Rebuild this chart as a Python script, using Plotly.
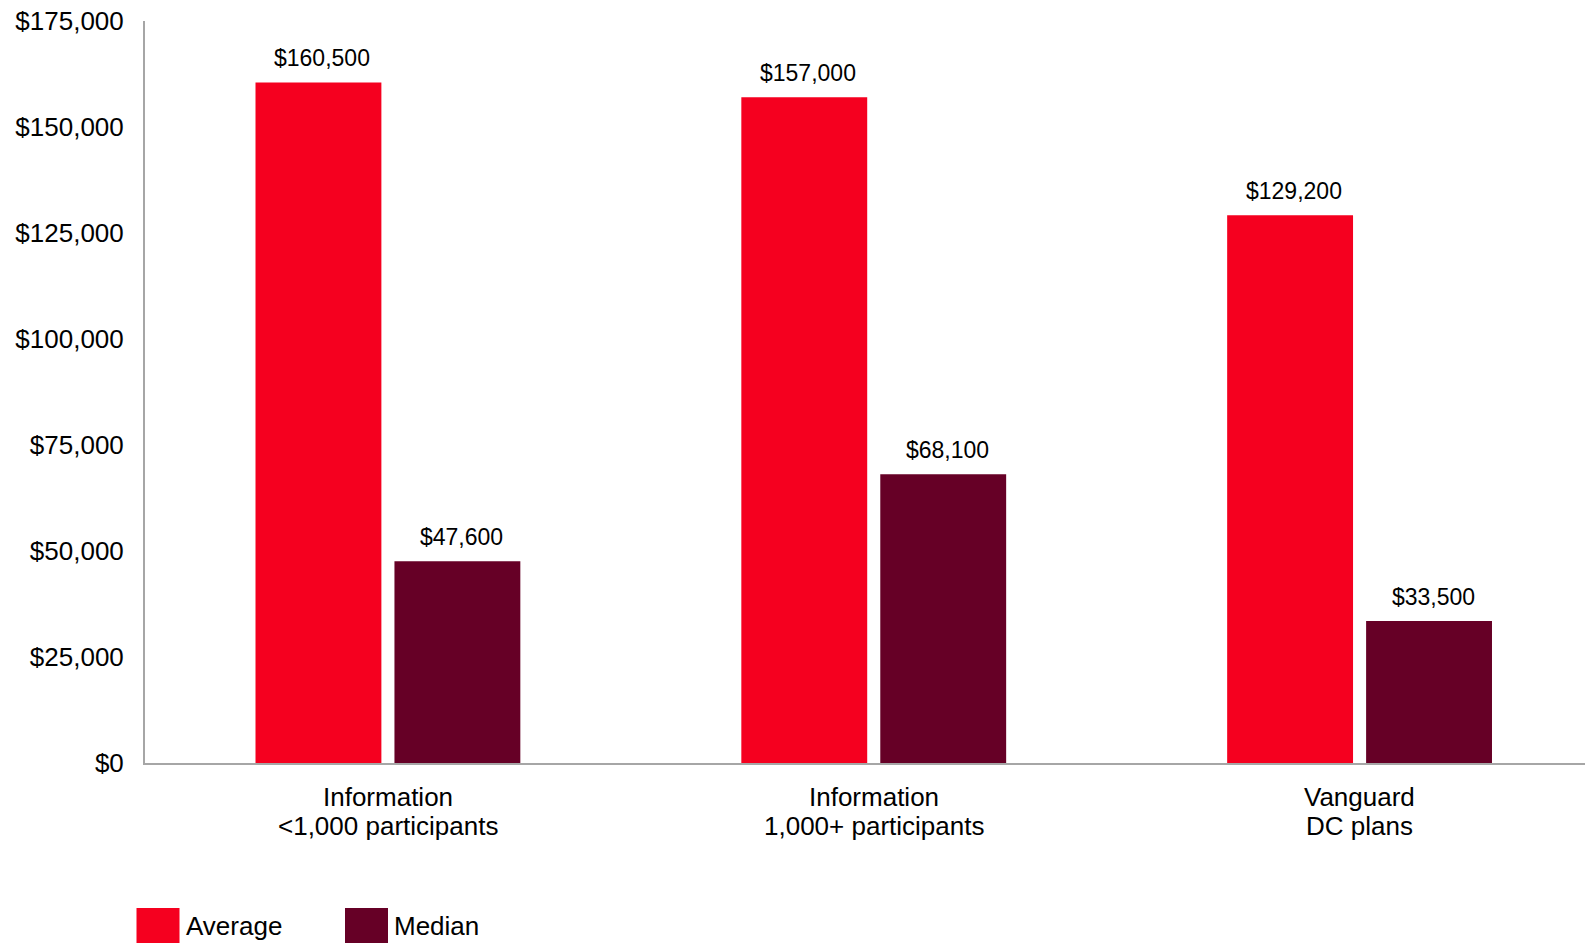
import plotly.graph_objects as go

# Account balances by plan group
categories = ["Information<br><1,000 participants",
              "Information<br>1,000+ participants",
              "Vanguard<br>DC plans"]
average_values = [160500, 157000, 129200]
median_values = [47600, 68100, 33500]
series_names = ["Average", "Median"]
y_ticks = [0, 25000, 50000, 75000, 100000, 125000, 150000, 175000]

RED = "#F5001F"
MAROON = "#660026"
FONT = "Liberation Sans, Arial, sans-serif"
W, H = 1585, 943
M_L, M_R, M_T, M_B = 145, 0, 21, 180
PLOT_W, PLOT_H = W - M_L - M_R, H - M_T - M_B


def py(pixel_y):
    """Page pixel row -> paper y coordinate."""
    return (H - M_B - pixel_y) / PLOT_H


def px(pixel_x):
    """Page pixel column -> paper x coordinate."""
    return (pixel_x - M_L) / PLOT_W


fig = go.Figure()
for name, vals, col in [(series_names[0], average_values, RED),
                        (series_names[1], median_values, MAROON)]:
    fig.add_trace(go.Bar(x=categories, y=vals, name=name,
                         marker=dict(color=col, line=dict(width=0)),
                         showlegend=False, hoverinfo="skip"))

x_range = [-0.5, 2.464]
px_per_cat = PLOT_W / (x_range[1] - x_range[0])
bargap = 0.428
slot = (1 - bargap) / 2 * px_per_cat  # pixel width of each bar slot

# value labels above each bar
for i, cat in enumerate(categories):
    for k, vals in enumerate([average_values, median_values]):
        fig.add_annotation(x=cat, y=vals[i], xref="x", yref="y",
                           text=f"${vals[i]:,}", showarrow=False,
                           xshift=(k - 0.5) * slot + 4, yshift=24,
                           yanchor="middle",
                           font=dict(size=23, color="#000000", family=FONT))

# two-line category labels with tight line spacing
for cat in categories:
    for j, line in enumerate(cat.split("<br>")):
        fig.add_annotation(x=cat, xref="x", yref="paper",
                           y=py(796.5 + 30 * j), text=line,
                           showarrow=False, yanchor="middle",
                           font=dict(size=26, color="#000000", family=FONT))

# legend drawn as swatches + text
legend_items = [(series_names[0], RED, 136.5), (series_names[1], MAROON, 345)]
for name, col, x0 in legend_items:
    fig.add_shape(type="rect", xref="paper", yref="paper",
                  x0=px(x0), x1=px(x0 + 43), y0=py(908), y1=py(955),
                  fillcolor=col, line=dict(width=0), layer="above")
    fig.add_annotation(xref="paper", yref="paper", x=px(x0 + 47), y=py(926),
                       text=name, showarrow=False, xanchor="left",
                       yanchor="middle",
                       font=dict(size=26, color="#000000", family=FONT))

fig.update_layout(
    width=W, height=H,
    margin=dict(l=M_L, r=M_R, t=M_T, b=M_B, pad=0),
    paper_bgcolor="white", plot_bgcolor="white",
    barmode="group", bargap=bargap, bargroupgap=0.094,
    font=dict(family=FONT, size=26, color="#000000"),
    showlegend=False,
)
fig.update_xaxes(range=x_range, showgrid=False, zeroline=False,
                 showline=True, linecolor="#A6A6A6", linewidth=2,
                 ticks="", showticklabels=False)
fig.update_yaxes(range=[0, 175000], tickvals=y_ticks,
                 ticktext=[f"${v:,}" for v in y_ticks],
                 showgrid=False, zeroline=False, showline=True,
                 linecolor="#A6A6A6", linewidth=2, ticks="",
                 tickfont=dict(size=26, color="#000000"),
                 ticklabelstandoff=14)

fig.write_html("out.html")
